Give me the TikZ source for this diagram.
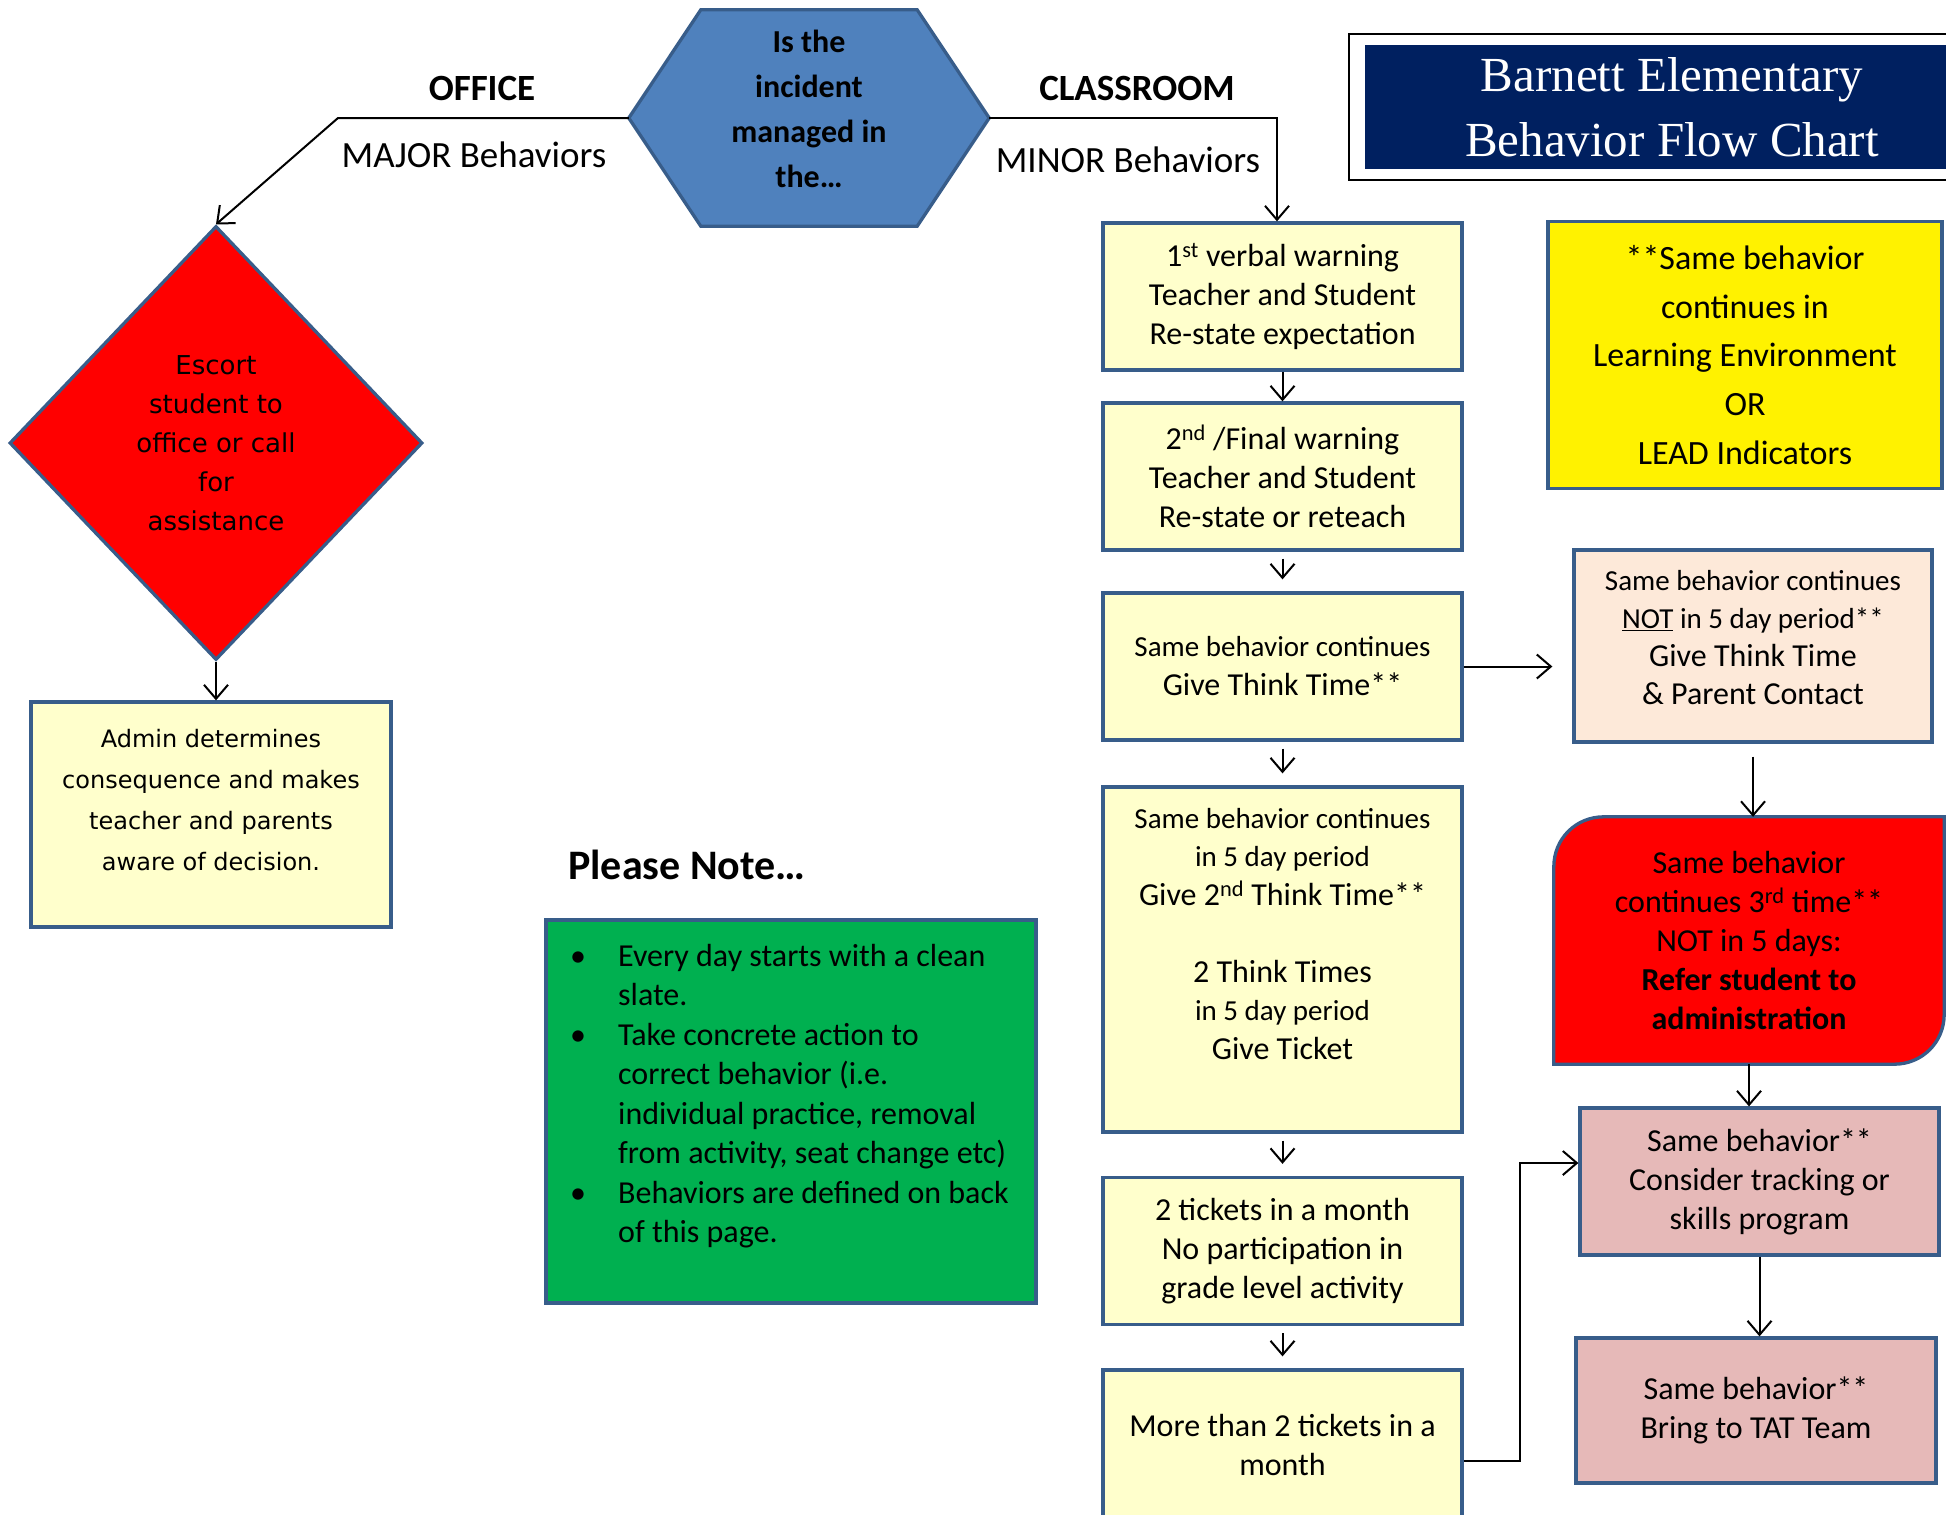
\documentclass[tikz,border=0pt]{standalone}
\usepackage{fontspec}
\setmainfont{Carlito}
\newfontfamily\verdfont{DejaVu Sans}
\newfontfamily\serfont{Liberation Serif}
\usetikzlibrary{shapes.geometric,arrows.meta,calc,backgrounds}
\definecolor{edge}{HTML}{385D8A}
\definecolor{hexblue}{HTML}{4F81BD}
\definecolor{cream}{HTML}{FFFFCC}
\definecolor{peach}{HTML}{FDE9D9}
\definecolor{rose}{HTML}{E6B9B8}
\definecolor{navy}{HTML}{002060}
\definecolor{leafgreen}{HTML}{00B050}
\newcommand{\setfs}[2]{\fontsize{#1}{#2}\selectfont}
\newcommand{\noteitem}[1]{\par\hangindent=48pt\hangafter=1\noindent\makebox[48pt][l]{\textbullet}#1}

\begin{document}
\begin{tikzpicture}[x=1pt,y=-1pt,
  card/.style={draw=edge,line width=3.3pt,inner sep=0pt,align=center,
    minimum width=359pt,minimum height=147pt,fill=cream,font=\setfs{32}{39}},
  cardtext/.style={inner sep=0pt,align=center},
  flow/.style={line width=2pt,-{Straight Barb[length=14pt,width=24pt]}},
  gapflow/.style={flow,shorten <=7pt,shorten >=12pt},
  branchlabel/.style={inner sep=0pt,font=\setfs{37}{44}}]
\useasboundingbox (0,0) rectangle (1946,1515);

% question
\node[minimum width=360pt,minimum height=216pt,inner sep=0pt] (hex) at (809,118) {};
\begin{scope}[on background layer]
  \draw[draw=edge,fill=hexblue,line width=3.3pt] (hex.west)
    -- ($(hex.north west)+(72,0)$) -- ($(hex.north east)+(-72,0)$) -- (hex.east)
    -- ($(hex.south east)+(-72,0)$) -- ($(hex.south west)+(72,0)$) -- cycle;
\end{scope}
\node[cardtext,font=\bfseries\setfs{32}{45}] (hextext) at (809,109) {Is the\\incident\\managed in\\the…};
\node[branchlabel,font=\bfseries\setfs{37}{44}] (office) at (482,88) {OFFICE};
\node[branchlabel] (major) at (474,155) {MAJOR Behaviors};
\node[branchlabel,font=\bfseries\setfs{37}{44}] (classroom) at (1137,88) {CLASSROOM};
\node[branchlabel] (minor) at (1128,160) {MINOR Behaviors};

% title
\draw[line width=2pt] (1946,34) -- (1349,34) -- (1349,180) -- (1946,180);
\node[fill=navy,minimum width=581pt,minimum height=124pt,inner sep=0pt] (titlebar) at (1655.5,107) {};
\node[cardtext,text=white,font=\serfont\setfs{49}{65}] (titletext) at (1672,107)
  {Barnett Elementary\\Behavior Flow Chart};

% classroom chain
\node[card] (box1) at (1282.5,296.5) {1\textsuperscript{st} verbal warning\\Teacher and Student\\Re-state expectation};
\node[card] (box2) at (1282.5,476.5) {2\textsuperscript{nd} /Final warning\\Teacher and Student\\Re-state or reteach};
\node[card] (box3) at (1282.5,666.5) {{\setfs{29}{38}Same behavior continues}\\Give Think Time**};
\node[card,minimum height=345pt] (box4) at (1282.5,959.5) {};
\node[cardtext,font=\setfs{32}{38.5}] (box4text) at (1282.5,934)
  {{\setfs{29}{38}Same behavior continues}\\{\setfs{29}{38}in 5 day period}\\Give 2\textsuperscript{nd} Think Time**\\[38.5pt]
   2 Think Times\\{\setfs{29}{38}in 5 day period}\\Give Ticket};
\node[card] (box5) at (1282.5,1251) {2 tickets in a month\\No participation in\\grade level activity};
\node[card,minimum height=150pt] (box6) at (1282.5,1445) {More than 2 tickets in a\\month};

% right column
\node[card,fill=yellow,minimum width=394pt,minimum height=267pt,font=\setfs{34}{48.75}] (lead) at (1745,355)
  {**Same behavior\\continues in\\Learning Environment\\OR\\LEAD Indicators};
\node[card,fill=peach,minimum width=358pt,minimum height=192pt] (peach) at (1753,646) {};
\node[cardtext,font=\setfs{32}{37.7}] (peachtext) at (1753,637.5)
  {{\setfs{29}{37.7}Same behavior continues}\\{\setfs{29}{37.7}\underline{NOT} in 5 day period**}\\Give Think Time\\\& Parent Contact};
\node[inner sep=0pt,minimum width=390pt,minimum height=247pt,align=center,font=\setfs{32}{39}] (refer) at (1749,940.5)
  {Same behavior\\continues 3\textsuperscript{rd} time**\\NOT in 5 days:\\\textbf{Refer student to}\\\textbf{administration}};
\begin{scope}[on background layer]
  \draw[draw=edge,fill=red,line width=3.3pt] (refer.south west) -- ($(refer.north west)+(0,50)$)
    .. controls ($(refer.north west)+(0,22)$) and ($(refer.north west)+(22,0)$) .. ($(refer.north west)+(50,0)$)
    -- (refer.north east) -- ($(refer.south east)+(0,-50)$)
    .. controls ($(refer.south east)+(0,-22)$) and ($(refer.south east)+(-22,0)$) .. ($(refer.south east)+(-50,0)$)
    -- cycle;
\end{scope}
\node[card,fill=rose] (pink1) at (1759.5,1181.5) {Same behavior**\\Consider tracking or\\skills program};
\node[card,fill=rose,minimum width=360pt,minimum height=145pt] (pink2) at (1756,1410.5) {Same behavior**\\Bring to TAT Team};

% office side
\node[diamond,draw=edge,fill=red,line width=3.3pt,inner sep=0pt,minimum width=413pt,minimum height=434pt,
  align=center,font=\verdfont\setfs{26}{39}] (escort) at (216,443) {Escort\\student to\\office or call\\for\\assistance};
\node[card,minimum width=360pt,minimum height=225pt] (admin) at (211,814.5) {};
\node[cardtext,font=\verdfont\setfs{24}{41}] (admintext) at (211,800)
  {Admin determines\\consequence and makes\\teacher and parents\\aware of decision.};

% notes
\node[anchor=west,inner sep=0pt,font=\bfseries\setfs{42}{48}] (pleasenote) at (568,865) {Please Note…};
\node[draw=edge,fill=leafgreen,line width=3.3pt,minimum width=490pt,minimum height=383pt,inner sep=0pt] (notes) at (791,1111.5) {};
\node[anchor=north west,inner sep=0pt,font=\setfs{32}{39.5}] (notelist) at (570,944) {\begin{minipage}[t]{460pt}
  \noteitem{Every day starts with a clean\newline slate.}
  \noteitem{Take concrete action to\newline correct behavior (i.e.\newline individual practice, removal\newline from activity, seat change etc)}
  \noteitem{Behaviors are defined on back\newline of this page.}
  \end{minipage}};

% connectors
\coordinate (officebend) at (338,118);
\coordinate (classbend) at (1277,118);
\coordinate (jog) at (1520,1163);
\draw[flow] (hex.west) -- (officebend) -- (escort.north);
\draw[flow] (hex.east) -- (classbend) -- (classbend |- box1.north);
\draw[flow] (box1.south) -- (box2.north);
\foreach \a/\b in {box2/box3,box3/box4,box4/box5,box5/box6}
  \draw[gapflow] (\a.south) -- (\a.south |- \b.north);
\draw[flow,shorten >=20pt] (box3.east) -- (box3.east -| peach.west);
\draw[flow,shorten <=13pt] (peach.south) -- (peach.south |- refer.north);
\draw[flow] (refer.south) -- (refer.south |- pink1.north);
\draw[flow] (pink1.south) -- (pink1.south |- pink2.north);
\draw[flow] ($(box6.east)+(0,16)$) -| (jog) -- (jog -| pink1.west);
\draw[flow] (escort.south) -- (escort.south |- admin.north);
\end{tikzpicture}
\end{document}
